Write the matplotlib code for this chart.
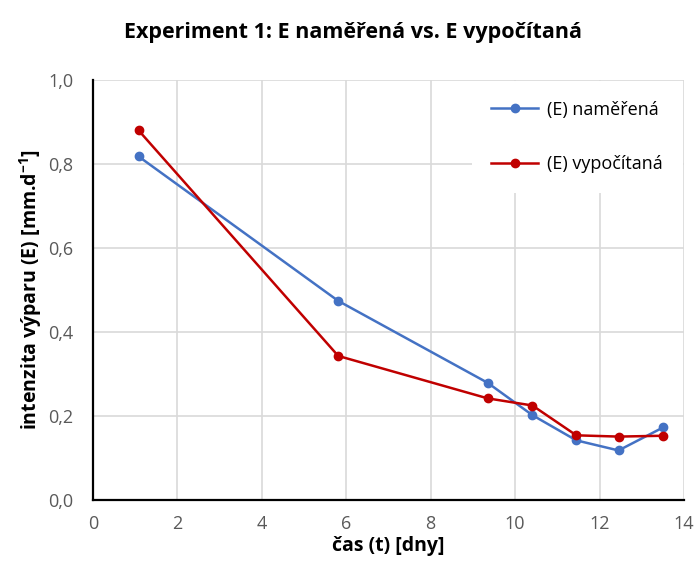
import matplotlib
matplotlib.use("Agg")
import matplotlib.pyplot as plt
from matplotlib.ticker import FixedLocator, FuncFormatter

plt.rcParams['font.family'] = ['Open Sans', 'DejaVu Sans']
plt.rcParams['mathtext.default'] = 'regular'

# values
cas = [1.08, 5.81, 9.35, 10.41, 11.45, 12.45, 13.51]
e_namerena = [0.818, 0.474, 0.279, 0.202, 0.142, 0.118, 0.173]
e_vypocitana = [0.880, 0.343, 0.242, 0.225, 0.154, 0.151, 0.153]

x_ticks = [0, 2, 4, 6, 8, 10, 12, 14]
y_ticks = [0.0, 0.2, 0.4, 0.6, 0.8, 1.0]

fig = plt.figure(figsize=(6.97, 5.68), dpi=100)
ax = fig.add_axes([0.1334, 0.1197, 0.8479, 0.7395])

ax.plot(cas, e_namerena, color='#4472C4', lw=1.8, marker='o', ms=6, label='(E) naměřená', zorder=3)
ax.plot(cas, e_vypocitana, color='#C00000', lw=1.8, marker='o', ms=6, label='(E) vypočítaná', zorder=3)

ax.set_xlim(0, 14)
ax.set_ylim(0, 1.0)
ax.xaxis.set_major_locator(FixedLocator(x_ticks))
ax.yaxis.set_major_locator(FixedLocator(y_ticks))
ax.yaxis.set_major_formatter(FuncFormatter(lambda v, p: f"{v:.1f}".replace('.', ',')))
ax.grid(True, color='#d9d9d9', lw=1.2)
ax.set_axisbelow(True)
ax.tick_params(length=0, labelsize=13, labelcolor='#595959')
ax.tick_params(axis='y', pad=14)
ax.tick_params(axis='x', pad=11)

for s in ['top', 'right']:
    ax.spines[s].set_visible(False)
for s in ['left', 'bottom']:
    ax.spines[s].set_color('black')
    ax.spines[s].set_linewidth(1.6)

ax.set_xlabel('čas (t) [dny]', fontsize=14, fontweight='bold', labelpad=2)
ax.set_ylabel('intenzita výparu (E) [mm.d$^{-1}$]', fontsize=14, fontweight='bold', labelpad=3)
fig.suptitle('Experiment 1: E naměřená vs. E vypočítaná', fontsize=15.5, fontweight='bold', x=0.507, y=0.962)

leg = ax.legend(loc='upper right', fontsize=13, frameon=True, fancybox=False, framealpha=1,
                edgecolor='white', borderpad=1.1, labelspacing=2.0, handlelength=2.6,
                handletextpad=0.5, borderaxespad=0.05)
leg.get_frame().set_linewidth(0)

fig.savefig('out.png', dpi=100)
